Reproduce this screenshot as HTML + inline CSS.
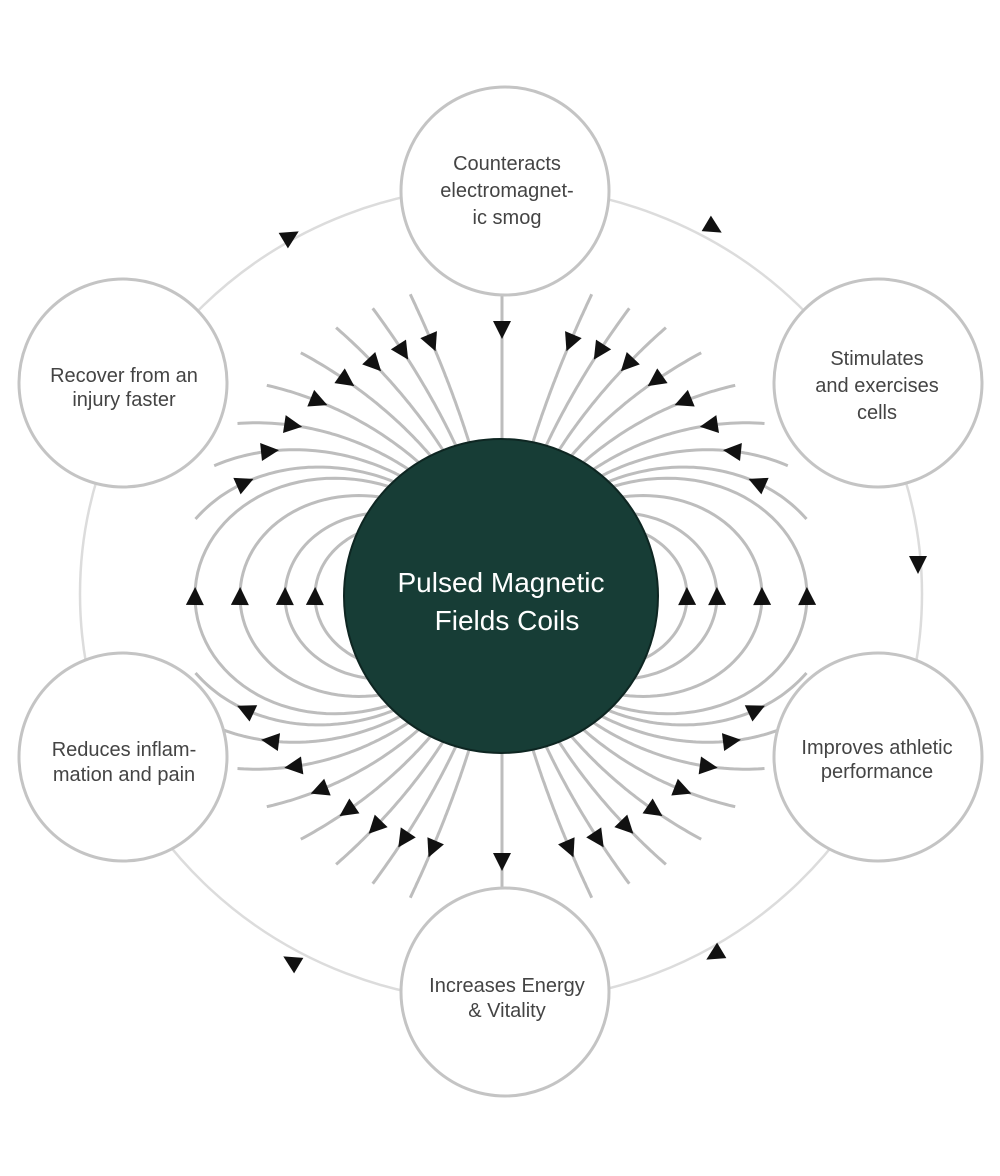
<!DOCTYPE html>
<html><head><meta charset="utf-8"><style>
html,body{margin:0;padding:0;background:#fff;}
svg{display:block}
text{font-family:"Liberation Sans",sans-serif;}
</style></head><body>
<svg id="s" width="1000" height="1176" viewBox="0 0 1000 1176" xmlns="http://www.w3.org/2000/svg">
<ellipse cx="501" cy="594" rx="421" ry="408" fill="none" stroke="#dcdcdc" stroke-width="2.5"/>
<g id="lines" fill="none" stroke="#bdbdbd" stroke-width="3"></g>
<line x1="502" y1="296" x2="502" y2="440" stroke="#bdbdbd" stroke-width="3"/>
<line x1="502" y1="752" x2="502" y2="888" stroke="#bdbdbd" stroke-width="3"/>
<g id="arr" fill="#111"></g>
<g fill="#fff" stroke="#c4c4c4" stroke-width="3">
<circle cx="505" cy="191" r="104"/>
<circle cx="505" cy="992" r="104"/>
<circle cx="123" cy="383" r="104"/>
<circle cx="878" cy="383" r="104"/>
<circle cx="123" cy="757" r="104"/>
<circle cx="878" cy="757" r="104"/>
</g>
<circle cx="501" cy="596" r="157" fill="#173d36" stroke="#0e2622" stroke-width="2"/>
<g fill="#444" font-size="20" text-anchor="middle">
<text x="507" y="170">Counteracts</text>
<text x="507" y="197">electromagnet-</text>
<text x="507" y="224">ic smog</text>
<text x="877" y="365">Stimulates</text>
<text x="877" y="392">and exercises</text>
<text x="877" y="419">cells</text>
<text x="124" y="382">Recover from an</text>
<text x="124" y="406">injury faster</text>
<text x="124" y="756">Reduces inflam-</text>
<text x="124" y="781">mation and pain</text>
<text x="877" y="754">Improves athletic</text>
<text x="877" y="778">performance</text>
<text x="507" y="992">Increases Energy</text>
<text x="507" y="1017">&amp; Vitality</text>
</g>
<g fill="#fff" font-size="28" text-anchor="middle">
<text x="501" y="592">Pulsed Magnetic</text>
<text x="507" y="630">Fields Coils</text>
</g>
</svg>
<script>
(function(){
var NS="http://www.w3.org/2000/svg",cx=501,cy=596,R0=157,R1=315;
var lg=document.getElementById('lines'),ag=document.getElementById('arr');
function P(L,t,s){var r=L*Math.sin(t)*Math.sin(t);return [cx+s*r*Math.sin(t),cy-r*Math.cos(t)];}
function arrow(p,q){var dx=q[0]-p[0],dy=q[1]-p[1],l=Math.hypot(dx,dy);dx/=l;dy/=l;
var tip=[p[0]+dx*9,p[1]+dy*9],b=[p[0]-dx*9,p[1]-dy*9];
var a=document.createElementNS(NS,'polygon');
a.setAttribute('points',tip[0]+','+tip[1]+' '+(b[0]-dy*9)+','+(b[1]+dx*9)+' '+(b[0]+dy*9)+','+(b[1]-dx*9));ag.appendChild(a);}
function seg(L,a,b,s,am){var d='',n=60;for(var i=0;i<=n;i++){var t=a+(b-a)*i/n,p=P(L,t,s);d+=(i?'L':'M')+p[0].toFixed(1)+' '+p[1].toFixed(1);}
var e=document.createElementNS(NS,'path');e.setAttribute('d',d);lg.appendChild(e);
var tm=a+(b-a)*am;arrow(P(L,tm,s),P(L,tm-0.01,s));}
var loops=[186,216,261,306],fans=[335,380,450,570,780,1150,1900,3800];
[1,-1].forEach(function(s){
loops.forEach(function(L){var a=Math.asin(Math.sqrt(R0/L));seg(L,a,Math.PI-a,s,0.5);});
fans.forEach(function(L){var a=Math.asin(Math.sqrt(R0/L)),b=Math.asin(Math.sqrt(Math.min(1,R1/L)));
seg(L,a,b,s,0.7);seg(L,Math.PI-b,Math.PI-a,s,0.3);});
});
[[714,228,1,0.6],[918,565,0,1],[714,955,-1,0.6],[291,961,-1,-0.6],[291,236,1,-0.6]].forEach(function(v){arrow([v[0],v[1]],[v[0]+v[2],v[1]+v[3]]);});
arrow([502,330],[502,331]);arrow([502,862],[502,863]);
})();
</script>
</body></html>
